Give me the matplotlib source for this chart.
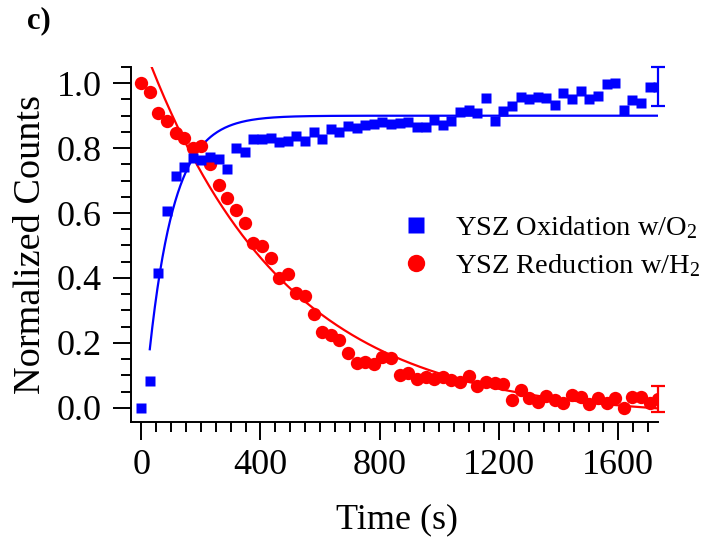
import matplotlib
matplotlib.use("Agg")
import matplotlib.pyplot as plt
import numpy as np
from matplotlib.lines import Line2D

plt.rcParams['font.family'] = ['Liberation Serif', 'DejaVu Serif']
plt.rcParams['mathtext.fontset'] = 'custom'
plt.rcParams['mathtext.rm'] = 'Liberation Serif'
plt.rcParams['mathtext.it'] = 'Liberation Serif:italic'

# ---- data ----
time_s = [0, 29, 58, 87, 116, 145, 173, 202, 231, 260, 289, 318, 347, 376, 405,
          434, 462, 491, 520, 549, 578, 607, 636, 665, 694, 723, 751, 780, 809,
          838, 867, 896, 925, 954, 983, 1012, 1040, 1069, 1098, 1127, 1156, 1185,
          1214, 1243, 1272, 1301, 1329, 1358, 1387, 1416, 1445, 1474, 1503, 1532,
          1561, 1590, 1618, 1647, 1676, 1705, 1734]

oxidation = [0.000, 0.082, 0.416, 0.607, 0.715, 0.743, 0.769, 0.764, 0.772, 0.766,
             0.735, 0.800, 0.789, 0.827, 0.828, 0.832, 0.818, 0.822, 0.837, 0.823,
             0.850, 0.828, 0.859, 0.851, 0.869, 0.861, 0.871, 0.875, 0.882, 0.874,
             0.879, 0.880, 0.866, 0.864, 0.887, 0.871, 0.885, 0.912, 0.918, 0.909,
             0.956, 0.884, 0.915, 0.931, 0.959, 0.951, 0.959, 0.956, 0.933, 0.971,
             0.952, 0.977, 0.952, 0.962, 0.997, 1.000, 0.918, 0.948, 0.940, 0.989,
             0.989]

reduction = [1.000, 0.972, 0.909, 0.884, 0.848, 0.830, 0.800, 0.807, 0.750, 0.686,
             0.647, 0.609, 0.568, 0.509, 0.499, 0.461, 0.401, 0.411, 0.353, 0.344,
             0.288, 0.232, 0.224, 0.209, 0.170, 0.137, 0.142, 0.134, 0.155, 0.152,
             0.102, 0.107, 0.090, 0.094, 0.088, 0.094, 0.085, 0.080, 0.099, 0.068,
             0.080, 0.075, 0.073, 0.024, 0.055, 0.029, 0.019, 0.036, 0.024, 0.014,
             0.039, 0.034, 0.011, 0.029, 0.014, 0.029, -0.002, 0.034, 0.032, 0.014,
             0.027]

# error bar on the last point of each series
ox_err_last = 0.060
red_err_last = 0.041

# exponential fit parameters
ox_fit_amp, ox_fit_t0, ox_fit_tau = 0.90, 10.0, 85.0
red_fit_amp, red_fit_tau, red_fit_off = 1.165, 465.0, -0.03

x_ticks = [0, 400, 800, 1200, 1600]
y_ticks = [0.0, 0.2, 0.4, 0.6, 0.8, 1.0]

BLUE = (0, 0, 1)
RED = (1, 0, 0)

fig = plt.figure(figsize=(7.04, 5.37), dpi=100)
AX_L, AX_R, AX_T, AX_B = 130.7, 658.3, 66.7, 421.7
ax = fig.add_axes([AX_L / 704, 1 - AX_B / 537, (AX_R - AX_L) / 704, (AX_B - AX_T) / 537])

t = np.array(time_s, dtype=float)
ox = np.array(oxidation)
rd = np.array(reduction)

# fit curves
tf_ox = np.linspace(t[1], t[-1], 400)
ax.plot(tf_ox, ox_fit_amp * (1 - np.exp(-(tf_ox - ox_fit_t0) / ox_fit_tau)),
        color=BLUE, lw=1.6, zorder=3)
tf_rd = np.linspace(t[0], t[-1], 400)
ax.plot(tf_rd, red_fit_amp * np.exp(-tf_rd / red_fit_tau) + red_fit_off,
        color=RED, lw=1.6, zorder=3)

# data markers
ax.plot(t, rd, 'o', color=RED, ms=9.6, mec='none', zorder=4)
ax.plot(t, ox, 's', color=BLUE, ms=7.0, mec='none', zorder=5)

# error bars on last points
ax.errorbar([t[-1]], [ox[-1]], yerr=[ox_err_last], fmt='none', ecolor=BLUE,
            elinewidth=1.6, capsize=5, capthick=1.6, zorder=6, clip_on=False)
ax.errorbar([t[-1]], [rd[-1]], yerr=[red_err_last], fmt='none', ecolor=RED,
            elinewidth=1.6, capsize=5, capthick=1.6, zorder=6, clip_on=False)

ax.set_xlim(-35, 1734)
ax.set_ylim(-0.043, 1.051)

for s in ['top', 'right']:
    ax.spines[s].set_visible(False)
for s in ['left', 'bottom']:
    ax.spines[s].set_linewidth(1.4)

ax.set_xticks(x_ticks)
ax.set_xticklabels([str(v) for v in x_ticks])
ax.set_yticks(y_ticks)
ax.set_yticklabels([f"{v:.1f}" for v in y_ticks])
ax.set_xticks(np.arange(0, 1734, 50), minor=True)
ax.set_yticks(np.arange(-0.0, 1.06, 0.05), minor=True)
ax.tick_params(axis='both', which='major', direction='out', length=13, width=1.4,
               labelsize=26, color='black')
ax.tick_params(axis='both', which='minor', direction='out', length=7, width=1.4)
ax.tick_params(axis='x', which='major', pad=6.5)
ax.tick_params(axis='y', which='major', pad=8)

ax.set_xlabel('Time (s)', fontsize=26)
ax.set_ylabel('Normalized Counts', fontsize=27.5)
ax.xaxis.set_label_coords((397 - AX_L) / (AX_R - AX_L), (AX_B - 503) / (AX_B - AX_T))
ax.yaxis.set_label_coords((48 - AX_L) / (AX_R - AX_L), (AX_B - 245) / (AX_B - AX_T))

handles = [Line2D([], [], ls='none', marker='s', color=BLUE, ms=12, mec='none'),
           Line2D([], [], ls='none', marker='o', color=RED, ms=12.5, mec='none')]
labels = ['YSZ Oxidation w/O$_2$', 'YSZ Reduction w/H$_2$']
fig.legend(handles, labels, loc='upper left',
           bbox_to_anchor=(402 / 704, 1 - 214 / 537), frameon=False,
           fontsize=20.5, handlelength=1.0, handletextpad=0.85, labelspacing=0.40,
           borderpad=0, borderaxespad=0)

fig.text(27 / 704, 1 - 21 / 537, 'c)', fontsize=22, fontweight='bold',
         ha='left', va='center')

fig.savefig('out.png', dpi=100)
